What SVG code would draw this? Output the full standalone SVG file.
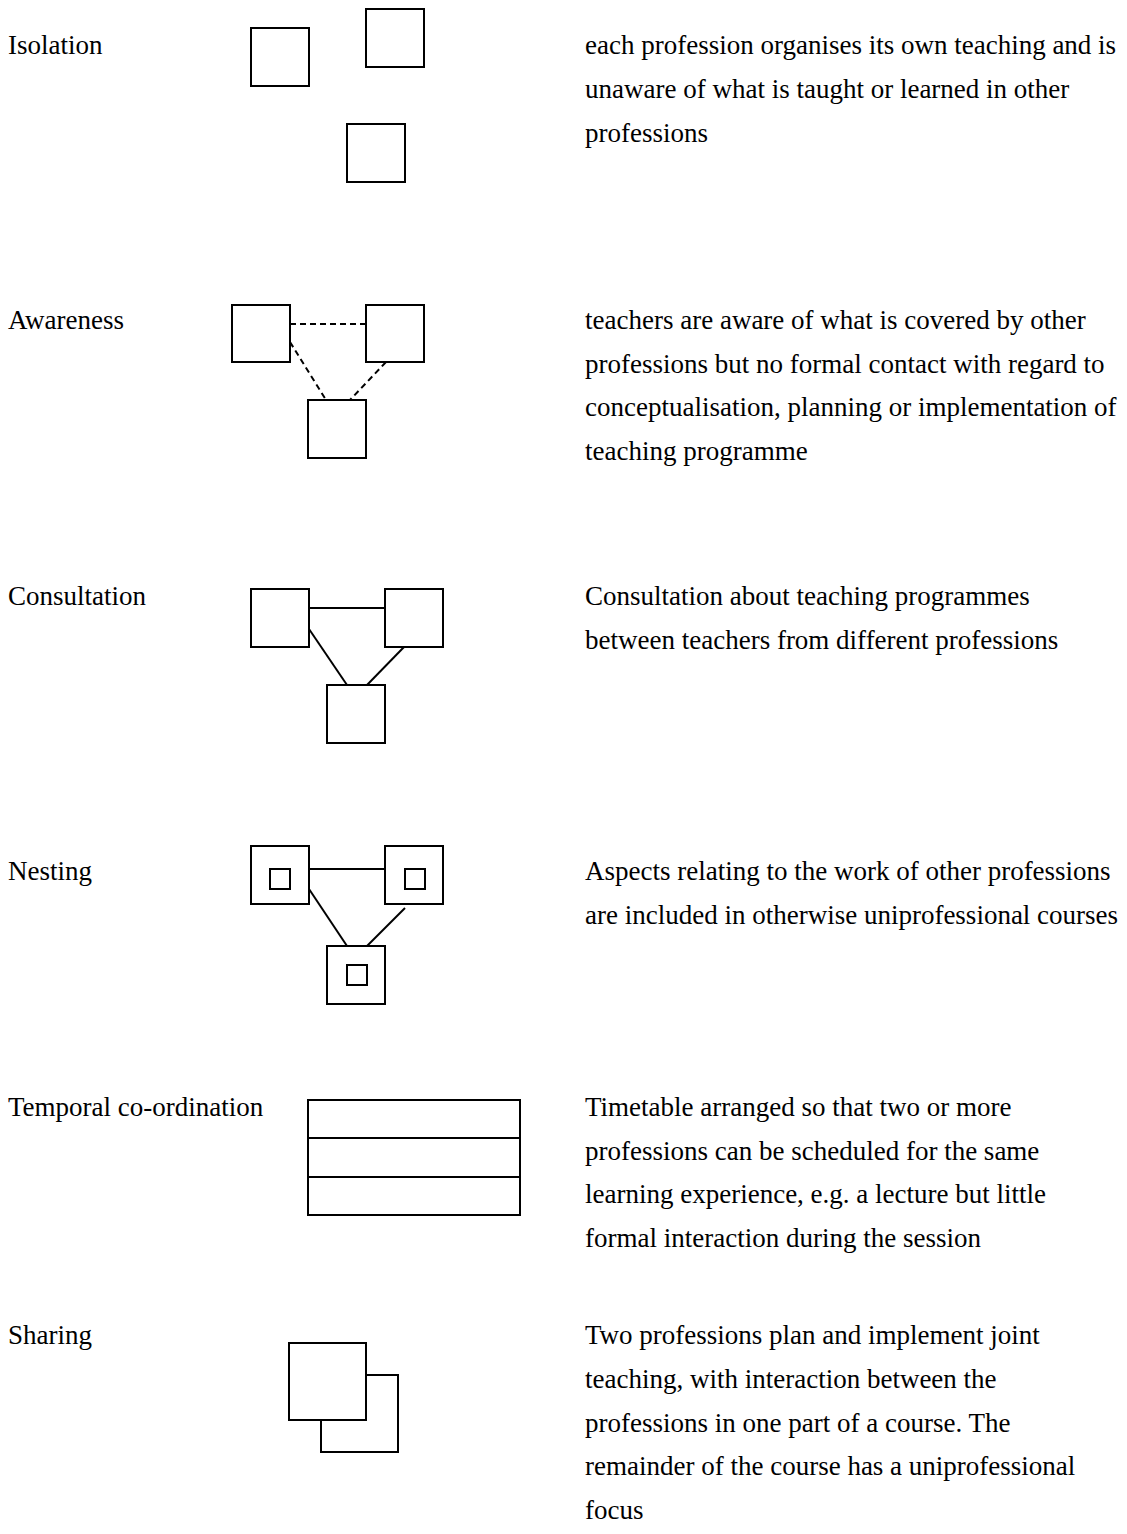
<svg xmlns="http://www.w3.org/2000/svg" width="1127" height="1534" viewBox="0 0 1127 1534">
  <style>
    text { font-family: "Liberation Serif", "Times New Roman", serif; font-size: 27px; fill: #000; }
    .box { fill: #fff; stroke: #000; stroke-width: 2; }
    .link { stroke: #000; stroke-width: 2; fill: none; }
    .dash { stroke-dasharray: 6 4; }
  </style>
  <rect width="1127" height="1534" fill="#fff"/>

  <!-- row labels -->
  <g id="labels">
    <text x="8" y="54">Isolation</text>
    <text x="8" y="329">Awareness</text>
    <text x="8" y="605">Consultation</text>
    <text x="8" y="880">Nesting</text>
    <text x="8" y="1116">Temporal co-ordination</text>
    <text x="8" y="1344">Sharing</text>
  </g>

  <!-- connectors -->
  <g id="connectors">
    <line class="link dash" x1="290" y1="324" x2="366" y2="324"/>
    <line class="link dash" x1="290" y1="342" x2="326" y2="400"/>
    <line class="link dash" x1="386" y1="362" x2="350" y2="400"/>

    <line class="link" x1="309" y1="608" x2="385" y2="608"/>
    <line class="link" x1="309" y1="629" x2="347" y2="685"/>
    <line class="link" x1="404" y1="647" x2="367" y2="685"/>

    <line class="link" x1="309" y1="869" x2="385" y2="869"/>
    <line class="link" x1="309" y1="889" x2="347" y2="946"/>
    <line class="link" x1="405" y1="908" x2="367" y2="946"/>
  </g>

  <!-- Isolation -->
  <g id="isolation">
    <rect class="box" x="251" y="28" width="58" height="58"/>
    <rect class="box" x="366" y="9" width="58" height="58"/>
    <rect class="box" x="347" y="124" width="58" height="58"/>
  </g>

  <!-- Awareness -->
  <g id="awareness">
    <rect class="box" x="232" y="305" width="58" height="57"/>
    <rect class="box" x="366" y="305" width="58" height="57"/>
    <rect class="box" x="308" y="400" width="58" height="58"/>
  </g>

  <!-- Consultation -->
  <g id="consultation">
    <rect class="box" x="251" y="589" width="58" height="58"/>
    <rect class="box" x="385" y="589" width="58" height="58"/>
    <rect class="box" x="327" y="685" width="58" height="58"/>
  </g>

  <!-- Nesting -->
  <g id="nesting">
    <rect class="box" x="251" y="846" width="58" height="58"/>
    <rect class="box" x="270" y="869" width="20" height="20"/>
    <rect class="box" x="385" y="846" width="58" height="58"/>
    <rect class="box" x="405" y="869" width="20" height="20"/>
    <rect class="box" x="327" y="946" width="58" height="58"/>
    <rect class="box" x="347" y="965" width="20" height="20"/>
  </g>

  <!-- Temporal co-ordination -->
  <g id="temporal">
    <rect class="box" x="308" y="1100" width="212" height="115"/>
    <line class="link" x1="308" y1="1138" x2="520" y2="1138"/>
    <line class="link" x1="308" y1="1177" x2="520" y2="1177"/>
  </g>

  <!-- Sharing -->
  <g id="sharing">
    <rect class="box" x="321" y="1375" width="77" height="77"/>
    <rect class="box" x="289" y="1343" width="77" height="77"/>
  </g>

  <!-- descriptions -->
  <g id="descriptions">
    <text x="585" y="54">each profession organises its own teaching and is</text>
    <text x="585" y="98">unaware of what is taught or learned in other</text>
    <text x="585" y="142">professions</text>

    <text x="585" y="329">teachers are aware of what is covered by other</text>
    <text x="585" y="372.5">professions but no formal contact with regard to</text>
    <text x="585" y="416">conceptualisation, planning or implementation of</text>
    <text x="585" y="459.5">teaching programme</text>

    <text x="585" y="605">Consultation about teaching programmes</text>
    <text x="585" y="648.5">between teachers from different professions</text>

    <text x="585" y="880">Aspects relating to the work of other professions</text>
    <text x="585" y="923.5">are included in otherwise uniprofessional courses</text>

    <text x="585" y="1116">Timetable arranged so that two or more</text>
    <text x="585" y="1159.5">professions can be scheduled for the same</text>
    <text x="585" y="1203">learning experience, e.g. a lecture but little</text>
    <text x="585" y="1246.5">formal interaction during the session</text>

    <text x="585" y="1344">Two professions plan and implement joint</text>
    <text x="585" y="1388">teaching, with interaction between the</text>
    <text x="585" y="1431.5">professions in one part of a course. The</text>
    <text x="585" y="1475">remainder of the course has a uniprofessional</text>
    <text x="585" y="1518.5">focus</text>
  </g>
</svg>
